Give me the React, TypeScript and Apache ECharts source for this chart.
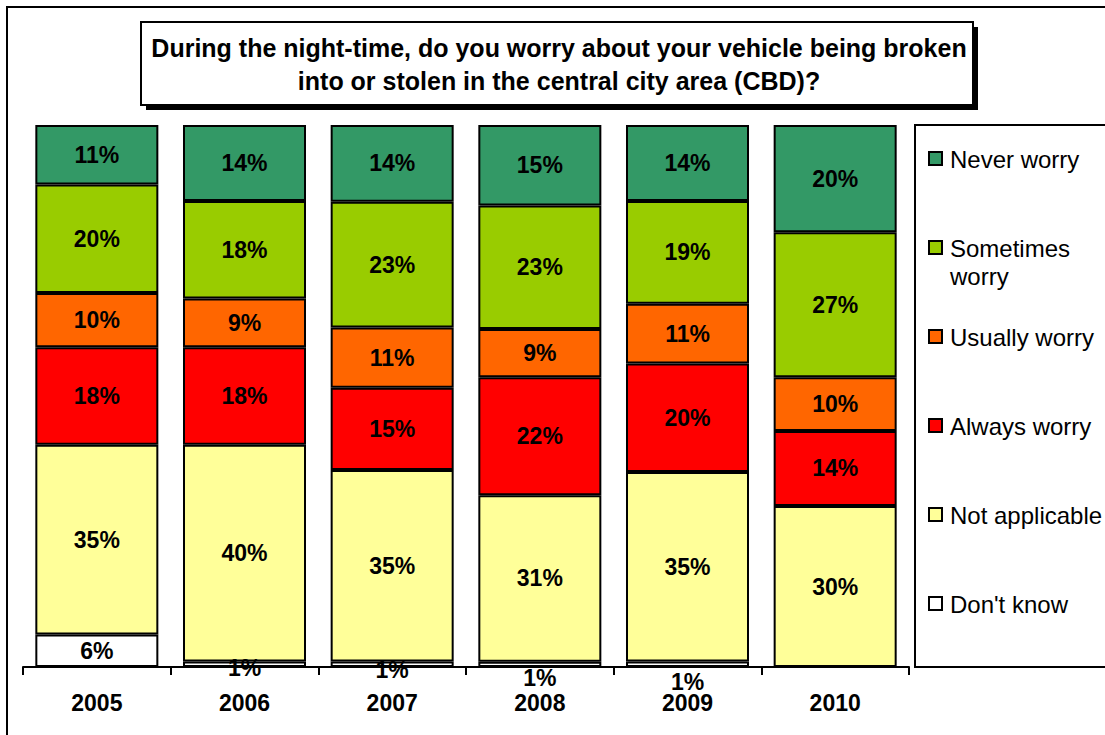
import React, { useEffect, useRef } from "react";
import * as echarts from "echarts";

const years = ["2005", "2006", "2007", "2008", "2009", "2010"];
// stacked from bottom to top
const seriesNames = ["Don't know", "Not applicable", "Always worry", "Usually worry", "Sometimes worry", "Never worry"];
const dontKnow = [6, 1, 1, 1, 1, 0];
const notApplicable = [35, 40, 35, 31, 35, 30];
const alwaysWorry = [18, 18, 15, 22, 20, 14];
const usuallyWorry = [10, 9, 11, 9, 11, 10];
const sometimesWorry = [20, 18, 23, 23, 19, 27];
const neverWorry = [11, 14, 14, 15, 14, 20];
const colors = ["#FFFFFF", "#FFFF99", "#FF0000", "#FF6600", "#99CC00", "#339966"];
const legendOrder = ["Never worry", "Sometimes worry", "Usually worry", "Always worry", "Not applicable", "Don't know"];
const legendLabels = ["Never worry", "Sometimes\nworry", "Usually worry", "Always worry", "Not applicable", "Don't know"];
const dontKnowLabelOffsets = [0, 4, 6, 14, 18, 0];

const allSeries = [dontKnow, notApplicable, alwaysWorry, usuallyWorry, sometimesWorry, neverWorry];
const FONT = "'Liberation Sans', Arial, sans-serif";

export default function App() {
  const ref = useRef<HTMLDivElement>(null);
  useEffect(() => {
    if (!ref.current) return;
    const chart = echarts.init(ref.current, null, { renderer: "svg" });
    const totals = years.map((_, i) => allSeries.reduce((s, arr) => s + arr[i], 0));
    const series = allSeries.map((arr, si) => ({
      name: seriesNames[si],
      type: "bar",
      stack: "all",
      barCategoryGap: "16.7%",
      itemStyle: { color: colors[si], borderColor: "#000", borderWidth: 2 },
      label: {
        show: true,
        position: "inside",
        color: "#000",
        fontFamily: FONT,
        fontWeight: "bold",
        fontSize: 23,
        formatter: (p: any) => (p.data.raw > 0 ? p.data.raw + "%" : ""),
      },
      data: arr.map((v, i) => ({
        value: (v / totals[i]) * 100,
        raw: v,
        label: si === 0 ? { offset: [0, dontKnowLabelOffsets[i]] } : undefined,
      })),
    }));

    const legendGraphics: any[] = [];
    const legendYs = [159, 248, 337, 426, 515, 604];
    legendOrder.forEach((name, k) => {
      const si = seriesNames.indexOf(name);
      legendGraphics.push({
        type: "rect",
        shape: { x: 929, y: legendYs[k] - 7, width: 13, height: 13 },
        style: { fill: colors[si], stroke: "#000", lineWidth: 2 },
        z: 10,
      });
      legendGraphics.push({
        type: "text",
        x: 950,
        y: legendYs[k] - 14,
        style: {
          text: legendLabels[k],
          font: `24px ${FONT}`,
          fill: "#000",
          lineHeight: 28,
          verticalAlign: "top",
        },
        z: 10,
      });
    });

    chart.setOption({
      animation: false,
      backgroundColor: "#fff",
      grid: { left: 23, right: 196, top: 125, bottom: 68 },
      xAxis: {
        type: "category",
        data: years,
        axisLine: { lineStyle: { color: "#000", width: 2 } },
        axisTick: { show: true, length: 8, lineStyle: { color: "#000", width: 2 } },
        axisLabel: { color: "#000", fontFamily: FONT, fontWeight: "bold", fontSize: 23, margin: 24 },
      },
      yAxis: { type: "value", min: 0, max: 100, show: false, splitLine: { show: false } },
      series,
      graphic: [
        {
          type: "rect",
          shape: { x: 7, y: 7, width: 1300, height: 900 },
          style: { fill: "none", stroke: "#000", lineWidth: 2 },
          z: 0,
        },
        {
          type: "rect",
          shape: { x: 146, y: 27, width: 832, height: 83 },
          style: { fill: "#000" },
          z: 5,
        },
        {
          type: "rect",
          shape: { x: 141, y: 22, width: 832, height: 83 },
          style: { fill: "#fff", stroke: "#000", lineWidth: 2 },
          z: 6,
        },
        {
          type: "text",
          x: 559,
          y: 64,
          style: {
            text: "During the night-time, do you worry about your vehicle being broken\ninto or stolen in the central city area (CBD)?",
            font: `bold 25px ${FONT}`,
            fill: "#000",
            align: "center",
            verticalAlign: "middle",
            lineHeight: 33,
          },
          z: 7,
        },
        {
          type: "rect",
          shape: { x: 915, y: 125, width: 300, height: 542 },
          style: { fill: "#fff", stroke: "#000", lineWidth: 2 },
          z: 5,
        },
        ...legendGraphics,
      ],
    });
    return () => chart.dispose();
  }, []);
  return <div ref={ref} style={{ position: "fixed", left: 0, top: 0, width: 1105, height: 735 }} />;
}
